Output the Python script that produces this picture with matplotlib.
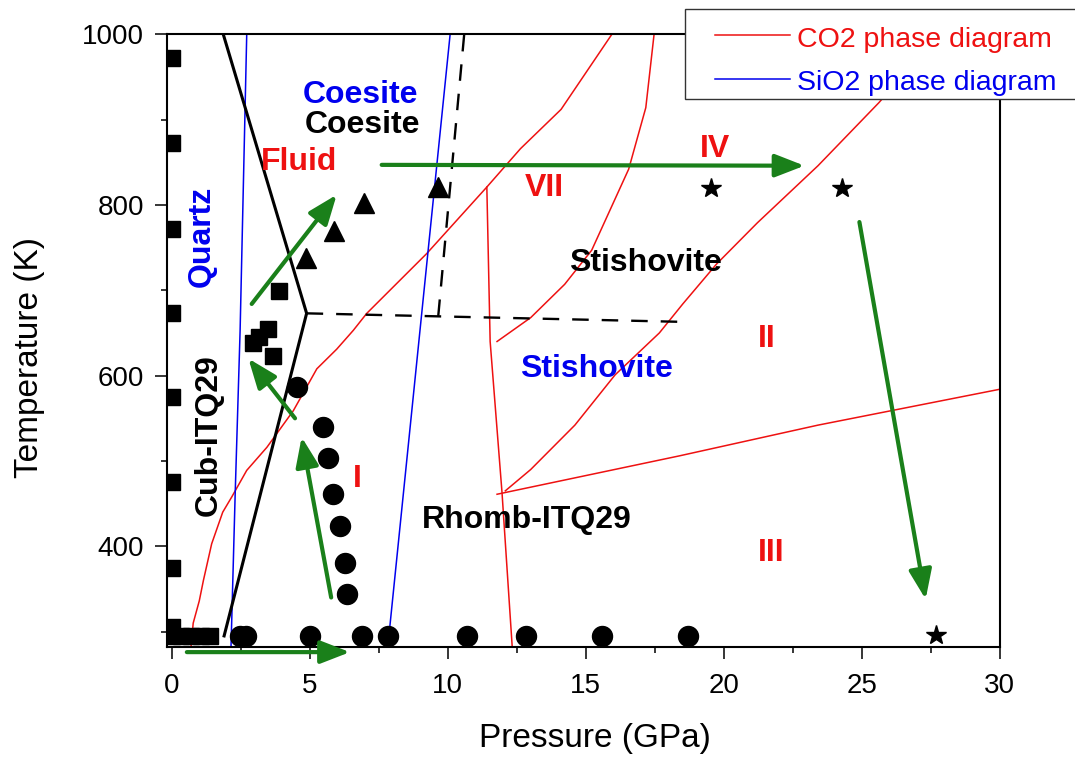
import matplotlib
matplotlib.use('Agg')
import matplotlib.pyplot as plt
from matplotlib.lines import Line2D
from matplotlib.patches import Rectangle
from matplotlib.ticker import MultipleLocator

plt.rcParams['font.family'] = ['Liberation Sans', 'DejaVu Sans']

# ---------------- data ----------------
sq_P = [0, 0, 0, 0, 0, 0, 0, 0, 0, 0.35, 0.7, 1.05, 1.39, 2.96, 3.18, 3.50, 3.66, 3.90]
sq_T = [972, 873, 772, 673, 575, 475, 374, 306, 295, 295, 295, 295, 295, 638, 645, 655, 623, 699]

tri_P = [4.87, 5.90, 6.98, 9.66]
tri_T = [738, 770, 802, 821]

circ_P = [4.53, 5.50, 5.68, 5.86, 6.10, 6.28, 6.37,
          2.48, 2.71, 5.01, 6.91, 7.83, 10.71, 12.83, 15.61, 18.71]
circ_T = [587, 540, 503, 461, 424, 381, 344,
          295, 295, 295, 295, 295, 295, 295, 295, 295]

star_P = [19.54, 24.30, 27.68]
star_T = [820, 820, 296]

# SiO2 boundaries (black)
blk_P = [1.90, 4.89, 1.87]
blk_T = [295, 673, 1000]
dash_h_P = [4.89, 11.66, 18.52]
dash_h_T = [673, 668, 663]
dash_v_P = [9.66, 10.60]
dash_v_T = [670, 1000]

# SiO2 phase diagram (blue)
blue1_P = [2.15, 2.30, 2.48, 2.72]
blue1_T = [282, 460, 653, 1000]
blue2_P = [7.83, 10.09]
blue2_T = [282, 1000]

# CO2 phase diagram (red)
red1_P = [0.70, 0.78, 1.00, 1.15, 1.45, 1.85, 2.18, 2.72, 3.45, 4.41, 5.26, 5.98, 6.58, 7.07, 9.24, 11.42, 12.64, 14.11, 15.95]
red1_T = [282, 310, 336, 360, 403, 440, 458, 489, 516, 559, 608, 631, 653, 673, 743, 821, 866, 912, 1000]
red2_P = [11.42, 11.54, 11.97, 12.34]
red2_T = [821, 640, 463, 282]
red3_P = [11.79, 13.01, 14.24, 15.22, 16.56, 17.18, 17.48]
red3_T = [640, 668, 707, 747, 842, 914, 1000]
red4_P = [12.09, 13.01, 14.61, 16.07, 17.67, 18.52, 19.75, 21.22, 23.42, 25.63, 27.50]
red4_T = [465, 490, 542, 601, 650, 684, 731, 779, 846, 920, 990]
red5_P = [11.79, 18.40, 23.42, 30.00]
red5_T = [461, 506, 542, 584]

# arrows (start P, start T, end P, end T)
arrows = [
    (0.55, 276, 6.46, 276),
    (4.47, 550, 2.78, 620),
    (5.78, 340, 4.71, 528),
    (2.90, 684, 5.98, 812),
    (7.61, 847, 22.93, 846),
    (24.92, 780, 27.32, 338),
]

# region labels (horizontal): text, P (centre), T (baseline), colour
labels = [
    ("Coesite", 6.83, 919, 'blue'),
    ("Coesite", 6.92, 884, 'black'),
    ("Fluid", 4.62, 841, 'red'),
    ("I", 6.71, 469, 'red'),
    ("Rhomb-ITQ29", 12.87, 421, 'black'),
    ("Stishovite", 17.17, 723, 'black'),
    ("Stishovite", 15.40, 598, 'blue'),
    ("VII", 13.49, 811, 'red'),
    ("IV", 19.69, 856, 'red'),
    ("II", 21.55, 633, 'red'),
    ("III", 21.74, 383, 'red'),
]
# rotated labels: text, P, T (centre), colour
vlabels = [
    ("Quartz", 1.09, 763, 'blue'),
    ("Cub-ITQ29", 1.36, 530, 'black'),
]

legend_labels = ["CO2 phase diagram", "SiO2 phase diagram"]

# ---------------- figure ----------------
W, H = 1075, 760
fig = plt.figure(figsize=(W / 100, H / 100), dpi=100)
ax = fig.add_axes([166.7 / W, 1 - 647 / H, (999.6 - 166.7) / W, (647 - 34.3) / H])

RED = '#ee1111'
BLUE = '#0000ee'
GREEN = '#1a801a'
cmap = {'red': RED, 'blue': BLUE, 'black': 'black'}

for P, T in [(red1_P, red1_T), (red2_P, red2_T), (red3_P, red3_T), (red4_P, red4_T), (red5_P, red5_T)]:
    ax.plot(P, T, color=RED, lw=1.1, zorder=2)
for P, T in [(blue1_P, blue1_T), (blue2_P, blue2_T)]:
    ax.plot(P, T, color=BLUE, lw=1.1, zorder=2)

ax.plot(blk_P, blk_T, color='black', lw=2.2, zorder=3)
ax.plot(dash_h_P, dash_h_T, color='black', lw=1.7, ls=(0, (7, 5.5)), zorder=3)
ax.plot(dash_v_P, dash_v_T, color='black', lw=1.7, ls=(0, (7, 5.5)), zorder=3)

ax.plot(sq_P, sq_T, 's', color='black', ms=12, zorder=4)
ax.plot(tri_P, tri_T, '^', color='black', ms=15, zorder=4)
ax.plot(circ_P, circ_T, 'o', color='black', ms=14.4, zorder=4)
ax.plot(star_P, star_T, '*', color='black', ms=15, zorder=4)

for p0, t0, p1, t1 in arrows:
    ax.annotate('', xy=(p1, t1), xytext=(p0, t0), annotation_clip=False,
                arrowprops=dict(arrowstyle='-|>,head_length=0.9,head_width=0.35',
                                color=GREEN, lw=3, mutation_scale=20,
                                shrinkA=0, shrinkB=0), zorder=5)

for txt, p, t, c in labels:
    ax.text(p, t, txt, color=cmap[c], fontsize=23, fontweight='bold',
            ha='center', va='baseline', zorder=6)
for txt, p, t, c in vlabels:
    ax.text(p, t, txt, color=cmap[c], fontsize=23, fontweight='bold',
            ha='center', va='center', rotation=90, zorder=6)

ax.set_xlim(-0.18, 30)
ax.set_ylim(282, 1000)
ax.xaxis.set_major_locator(MultipleLocator(5))
ax.xaxis.set_minor_locator(MultipleLocator(2.5))
ax.yaxis.set_major_locator(MultipleLocator(200))
ax.yaxis.set_minor_locator(MultipleLocator(100))
ax.tick_params(which='both', direction='out', top=False, right=False, width=1.1)
ax.tick_params(which='major', length=8.4)
ax.tick_params(which='minor', length=4.1)
ax.tick_params(axis='x', labelsize=20, pad=10)
ax.tick_params(axis='y', labelsize=20, pad=8)
for s in ax.spines.values():
    s.set_linewidth(1.5)

fig.text(595 / W, 1 - 738 / H, 'Pressure (GPa)', ha='center', va='center', fontsize=24)
fig.text(30 / W, 1 - 357 / H, 'Temperature (K)', ha='center', va='center', fontsize=24, rotation=90)

# legend box (manual)
def fx(x):
    return x / W

def fy(y):
    return 1 - y / H

fig.add_artist(Rectangle((fx(685), fy(99)), fx(1085) - fx(685), fy(9) - fy(99),
                         transform=fig.transFigure, facecolor='white', edgecolor='#333333',
                         lw=1.0, zorder=10))
for (ly, by), lab, col in zip([(35, 46.7), (79, 90)], legend_labels, [RED, BLUE]):
    fig.add_artist(Line2D([fx(715), fx(790)], [fy(ly), fy(ly)], color=col, lw=1.1,
                          transform=fig.transFigure, zorder=11))
    fig.text(fx(797), fy(by), lab, color=col, fontsize=20.5, ha='left', va='baseline', zorder=11)

fig.savefig('out.png', dpi=100)
